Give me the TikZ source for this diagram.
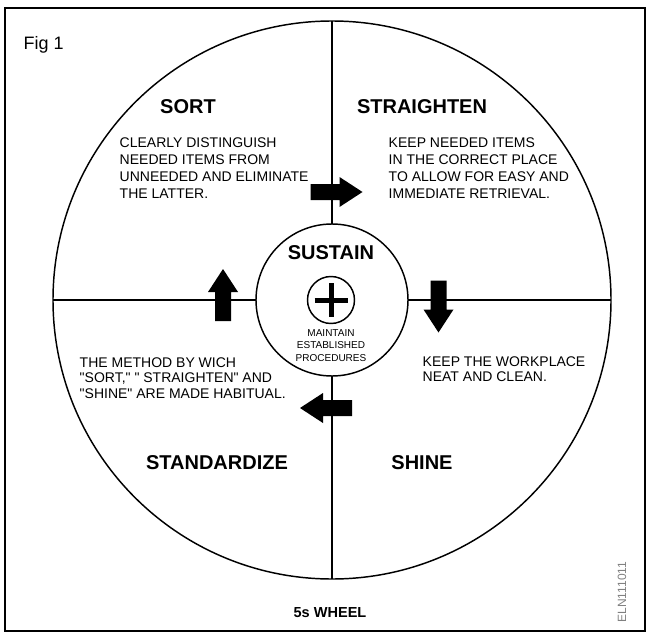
\documentclass[tikz,border=0pt]{standalone}
\usepackage{fontspec}
\setmainfont{Liberation Sans}
% straight double quote, kept out of the TeX ligature mapping
\newcommand\dq{\XeTeXglyph\XeTeXcharglyph"22\relax}

\tikzset{every picture/.style={line width=1.1pt}}
\tikzset{
  head/.style={font=\fontsize{15}{18}\selectfont\bfseries, inner sep=0.75pt},
  body/.style={font=\fontsize{10.5}{12.75}\selectfont, inner sep=0.75pt, align=left, anchor=north west},
  tight/.style={font=\fontsize{10.5}{11.6}\selectfont, inner sep=0.75pt, align=left, anchor=north west},
  ring/.style={circle, draw, inner sep=0pt, outer sep=0pt},
  blkarrow/.pic={\fill (-26,-8) -- (3,-8) -- (3,-15) -- (26,0) -- (3,15) -- (3,8) -- (-26,8) -- cycle;}
}

\begin{document}
\begin{tikzpicture}[x=0.75pt,y=0.75pt,yscale=-1,xscale=1]
    \useasboundingbox (0,0) rectangle (650,635);
    % Frame
    \draw (5,8) rectangle (645,631) ;
    % Wheel
    \node [ring, minimum size=418.5pt] (wheel) at (332,300) {};
    \node [ring, minimum size=114pt, fill=white] (hub) at (332,300) {};
    % Spokes
    \draw (wheel.north) -- (hub.north) ;
    \draw (hub.south) -- (wheel.south) ;
    \draw (wheel.west) -- (hub.west) ;
    \draw (hub.east) -- (wheel.east) ;
    % Plus sign
    \node [ring, minimum size=35.25pt] (plus) at (331,300) {};
    \draw [line width=3.75pt] (plus.center) ++(-16.5,0) -- ++(33,0) ;
    \draw [line width=3.75pt] (plus.center) ++(0,-17) -- ++(0,34) ;
    % Block arrows
    \pic at (336.5,192) {blkarrow};
    \pic [rotate=-90] at (438.5,306.5) {blkarrow};
    \pic [rotate=180] at (326,408) {blkarrow};
    \pic [rotate=90] at (223,295) {blkarrow};
    % Text Node
    \node [anchor=base west, inner sep=0.75pt, font=\fontsize{13.5}{16}\selectfont] (fig) at (22,49.5) {Fig 1};
    % Text Node
    \node [head] (sort) at (188,107) {SORT};
    \node [body] (sorttxt) at (118,136) {CLEARLY DISTINGUISH\\NEEDED ITEMS FROM\\UNNEEDED AND ELIMINATE\\THE LATTER.};
    % Text Node
    \node [head] (straighten) at (422,107) {STRAIGHTEN};
    \node [body] (straightentxt) at (387,136) {KEEP NEEDED ITEMS\\IN THE CORRECT PLACE\\TO ALLOW FOR EASY AND\\IMMEDIATE RETRIEVAL.};
    % Text Node
    \node [head] (sustain) at (331,253) {SUSTAIN};
    \node [inner sep=0.75pt, align=center, font=\fontsize{7.5}{9.4}\selectfont] (sustaintxt) at (331,345.5) {MAINTAIN\\ESTABLISHED\\PROCEDURES};
    % Text Node
    \node [tight] (standardizetxt) at (78,356) {THE METHOD BY WICH\\\dq SORT,\dq{} \dq{} STRAIGHTEN\dq{} AND\\\dq SHINE\dq{} ARE MADE HABITUAL.};
    \node [head] (standardize) at (217,463) {STANDARDIZE};
    % Text Node
    \node [tight] (shinetxt) at (421,355) {KEEP THE WORKPLACE\\NEAT AND CLEAN.};
    \node [head] (shine) at (422,463) {SHINE};
    % Text Node
    \node [inner sep=0.75pt, font=\fontsize{10.9}{13}\selectfont\bfseries] (title) at (330,613) {5s WHEEL};
    \node [inner sep=0.75pt, rotate=90, text=gray, font=\fontsize{9}{11}\selectfont] (code) at (622,592) {ELN111011};
\end{tikzpicture}
\end{document}
